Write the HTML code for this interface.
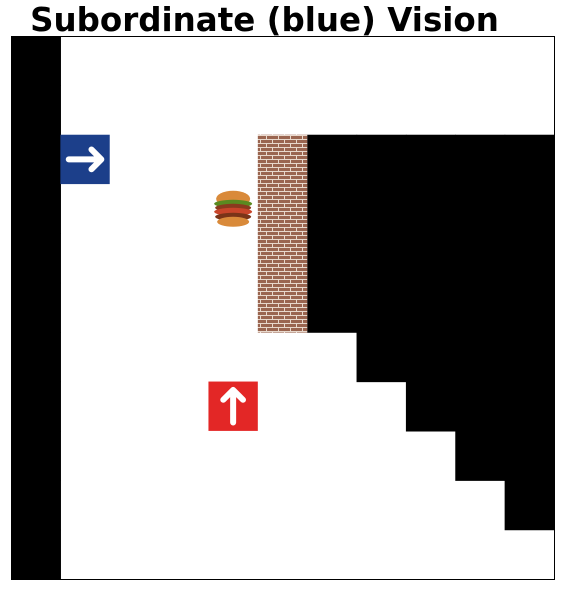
<!DOCTYPE html>
<html><head><meta charset="utf-8"><style>
html,body{margin:0;padding:0;background:#fff;width:564px;height:590px;overflow:hidden}
svg{display:block}
</style></head><body>
<svg id="chart" width="564" height="590">
<defs>
<pattern id="brick" width="12" height="8" patternUnits="userSpaceOnUse">
<rect width="12" height="8" fill="#9a6550"/>
<rect y="3" width="12" height="1" fill="#e8d8cc"/>
<rect y="7" width="12" height="1" fill="#e8d8cc"/>
<rect x="2" y="0" width="1" height="3" fill="#e8d8cc"/>
<rect x="8" y="4" width="1" height="3" fill="#e8d8cc"/>
</pattern>
</defs>
<text x="264.5" y="31" text-anchor="middle" font-family="DejaVu Sans, sans-serif" font-weight="bold" font-size="32.5">Subordinate (blue) Vision</text>
<g id="cells"></g>
<rect x="11.5" y="36.5" width="543" height="543" fill="none" stroke="#000" stroke-width="1"/>
</svg>
<script>
const gridSize = 11;
const hiddenCells = [];
for (let r = 0; r < 11; r++) hiddenCells.push([0, r]);
const hiddenRuns = [[2,6,10],[3,6,10],[4,6,10],[5,6,10],[6,7,10],[7,8,10],[8,9,10],[9,10,10]];
hiddenRuns.forEach(([r,a,b]) => { for (let c = a; c <= b; c++) hiddenCells.push([c, r]); });
const wallCells = [[5,2],[5,3],[5,4],[5,5]];
const blueAgent = [1,2];
const redAgent = [4,7];
const food = [4,3];

const x0 = 11, y0 = 36, size = 543;
const cs = size / gridSize;
const X = c => x0 + c * cs;
const Y = r => y0 + r * cs;
const ns = 'http://www.w3.org/2000/svg';
const g = document.getElementById('cells');
function mk(tag, attrs) { const e = document.createElementNS(ns, tag); for (const k in attrs) e.setAttribute(k, attrs[k]); g.appendChild(e); return e; }

hiddenCells.forEach(([c,r]) => {
  const e = mk('rect', {x: X(c), y: Y(r), width: cs + 0.6, height: cs + 0.6, fill: '#000'});
  
  
});
wallCells.forEach(([c,r]) => {
  const e = mk('rect', {x: X(c), y: Y(r), width: cs, height: cs + 0.4, fill: 'url(#brick)'});
  
  
});
function agent(pos, color, dir, name) {
  const [c,r] = pos;
  const e = mk('rect', {x: X(c), y: Y(r), width: cs, height: cs, fill: color});
  
  
  const cx = X(c) + cs/2, cy = Y(r) + cs/2, L = cs*0.33, H = cs*0.2;
  let d;
  if (dir === 'right') d = `M${cx-L} ${cy} L${cx+L} ${cy} M${cx+L-H} ${cy-H} L${cx+L} ${cy} L${cx+L-H} ${cy+H}`;
  else d = `M${cx} ${cy+L} L${cx} ${cy-L} M${cx-H} ${cy-L+H} L${cx} ${cy-L} L${cx+H} ${cy-L+H}`;
  const p = mk('path', {d, stroke: '#fff', 'stroke-width': 6, fill: 'none', 'stroke-linecap': 'round', 'stroke-linejoin': 'round'});
  
  
}
agent(blueAgent, '#1c3f8a', 'right', 'blue-agent');
agent(redAgent, '#e32726', 'up', 'red-agent');

const fx = X(food[0]) + cs/2, fy = Y(food[1]) + cs/2;
const layers = [[-10,17,8,'#d98a3a'],[-5,19,4,'#5a8a20'],[-1,18,4,'#8a3a1e'],[3,19,4,'#c8452a'],[8,18,4,'#7a3418'],[13,16,5,'#d98a3a']];
layers.forEach(([dy,rx,ry,col]) => {
  const e = mk('ellipse', {cx: fx, cy: fy + dy, rx: rx, ry: ry, fill: col});
  
  
});
</script>
</body></html>
